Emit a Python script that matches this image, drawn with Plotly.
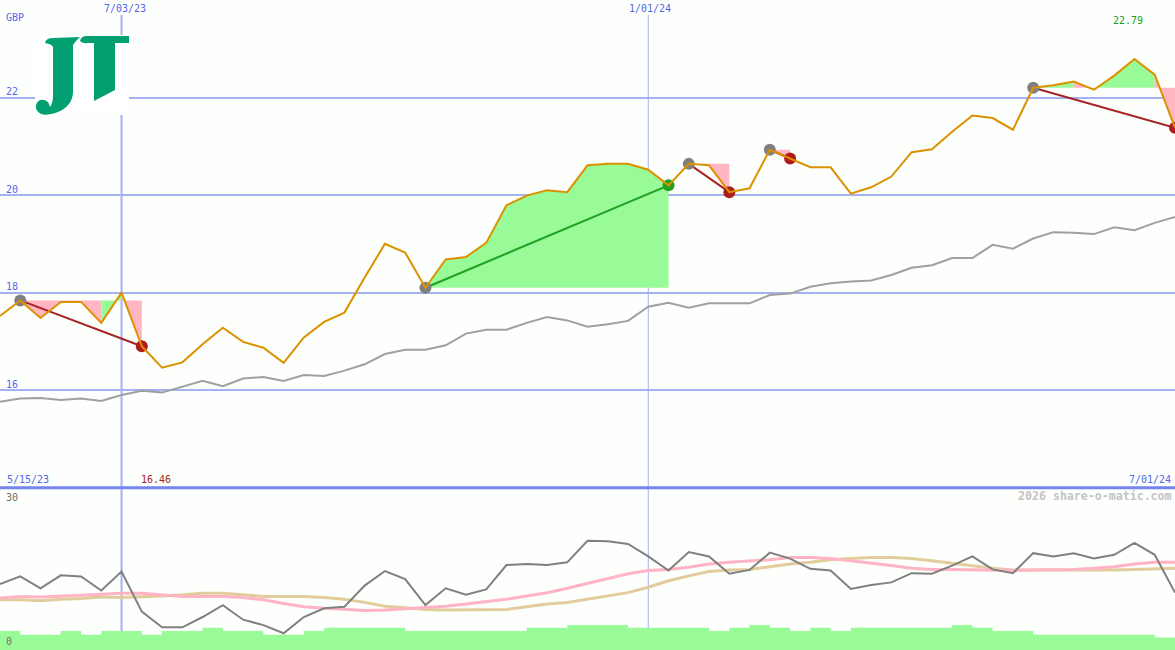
import pandas as pd
import plotly.graph_objects as go

# ---------------- data ----------------
dates = pd.date_range("2023-05-22", periods=59, freq="7D")

price = [17.52, 17.84, 17.48, 17.81, 17.81, 17.38, 18.00, 16.90, 16.46, 16.57,
         16.94, 17.28, 16.99, 16.87, 16.56, 17.08, 17.40, 17.59, 18.31, 19.00,
         18.82, 18.10, 18.68, 18.73, 19.02, 19.79, 19.99, 20.10, 20.06, 20.61,
         20.64, 20.64, 20.52, 20.20, 20.64, 20.61, 20.06, 20.14, 20.93, 20.75,
         20.57, 20.57, 20.03, 20.16, 20.38, 20.88, 20.94, 21.30, 21.63, 21.58,
         21.34, 22.20, 22.25, 22.33, 22.16, 22.45, 22.79, 22.47, 21.38]

moving_avg = [15.76, 15.83, 15.84, 15.80, 15.83, 15.78, 15.90, 15.99, 15.95, 16.07,
              16.19, 16.08, 16.24, 16.27, 16.19, 16.31, 16.29, 16.40, 16.53, 16.74,
              16.83, 16.83, 16.92, 17.16, 17.24, 17.24, 17.38, 17.50, 17.43, 17.30,
              17.35, 17.42, 17.71, 17.79, 17.69, 17.78, 17.78, 17.78, 17.95, 17.98,
              18.12, 18.19, 18.23, 18.25, 18.36, 18.51, 18.56, 18.71, 18.71, 18.98,
              18.90, 19.11, 19.24, 19.23, 19.20, 19.34, 19.28, 19.43, 19.55]

oscillator = [12.2, 13.6, 11.4, 13.8, 13.6, 11.0, 14.5, 7.1, 4.2, 4.2,
              6.1, 8.3, 5.6, 4.6, 3.1, 6.1, 7.7, 8.0, 11.9, 14.6,
              13.1, 8.3, 11.4, 10.2, 11.2, 15.7, 15.9, 15.7, 16.2, 20.2,
              20.1, 19.6, 17.3, 14.7, 18.1, 17.3, 14.1, 14.8, 18.0, 16.9,
              15.0, 14.7, 11.3, 12.0, 12.5, 14.2, 14.1, 15.6, 17.3, 14.9,
              14.2, 17.9, 17.3, 17.9, 16.9, 17.6, 19.8, 17.6, 10.6]

signal_pink = [9.6, 9.9, 9.8, 9.9, 10.1, 10.3, 10.5, 10.5, 10.2, 9.9,
               9.9, 9.9, 9.7, 9.3, 8.6, 8.0, 7.7, 7.5, 7.3, 7.4,
               7.6, 7.8, 8.1, 8.5, 8.9, 9.4, 10.0, 10.6, 11.4, 12.3,
               13.3, 14.1, 14.7, 14.9, 15.3, 15.9, 16.2, 16.4, 16.7, 17.1,
               17.1, 16.9, 16.5, 16.0, 15.6, 15.1, 14.9, 14.9, 14.8, 14.7,
               14.7, 14.8, 14.8, 14.9, 15.1, 15.4, 15.9, 16.2, 16.2]

signal_tan = [9.3, 9.3, 9.1, 9.4, 9.5, 9.8, 9.7, 9.8, 10.0, 10.2,
              10.5, 10.5, 10.2, 9.9, 9.9, 9.9, 9.7, 9.4, 8.8, 8.1,
              7.8, 7.5, 7.4, 7.4, 7.4, 7.5, 8.0, 8.5, 8.8, 9.4,
              10.0, 10.6, 11.6, 12.8, 13.7, 14.5, 14.8, 14.9, 15.4, 15.9,
              16.2, 16.7, 16.9, 17.1, 17.1, 16.9, 16.5, 16.0, 15.6, 15.1,
              14.8, 14.8, 14.8, 14.7, 14.8, 14.8, 14.9, 15.0, 15.1]

volume = [3.5, 2.8, 2.8, 3.5, 2.8, 3.5, 3.5, 2.8, 3.5, 3.5,
          4.1, 3.5, 3.5, 2.8, 2.8, 3.5, 4.1, 4.1, 4.1, 4.1,
          3.5, 3.5, 3.5, 3.5, 3.5, 3.5, 4.1, 4.1, 4.6, 4.6,
          4.6, 4.1, 4.1, 4.1, 4.1, 3.5, 4.1, 4.6, 4.1, 3.5,
          4.1, 3.5, 4.1, 4.1, 4.1, 4.1, 4.1, 4.6, 4.1, 3.5,
          3.5, 2.8, 2.8, 2.8, 2.8, 2.8, 2.8, 2.3, 2.3]

trend_start = [1, 21, 34, 38, 51]
trend_end = [7, 33, 36, 39, 58]

price_ticks = [16, 18, 20, 22]
date_labels_top = ["2023-07-03", "2024-01-01"]

# ---------------- style ----------------
W, H = 1175, 650
BG = "#fcfffc"
GRID = "#a4b2f2"
BLUE_TXT = "#5566ee"
ORANGE = "#dc9100"
GREEN_FILL = "#98fb98"
PINK_FILL = "#ffb6c1"
DOWN_LINE = "#a52424"
DOWN_MARK = "#b01c1c"
UP_COL = "#22a022"
START_MARK = "#808080"
LOGO = "#02a070"
FONT = "DejaVu Sans Mono"
split = 162.3 / H  # bottom panel share

fig = go.Figure()

# trend fills
for s, e in zip(trend_start, trend_end):
    base = price[s]
    i = s
    while i < e:
        up = price[i + 1] > base
        j = i
        while j < e and (price[j + 1] > base) == up:
            j += 1
        xs = [dates[i]] + list(dates[i:j + 1]) + [dates[j]]
        ys = [base] + price[i:j + 1] + [base]
        fig.add_trace(go.Scatter(x=xs, y=ys, mode="lines", fill="toself",
                                 fillcolor=GREEN_FILL if up else PINK_FILL,
                                 line=dict(width=0), hoverinfo="skip",
                                 xaxis="x", yaxis="y"))
        i = j

# moving average
fig.add_trace(go.Scatter(x=dates, y=moving_avg, mode="lines",
                         line=dict(color="#a0a0a0", width=2), xaxis="x", yaxis="y"))

# trend lines and markers
for s, e in zip(trend_start, trend_end):
    up = price[e] > price[s]
    fig.add_trace(go.Scatter(x=[dates[s], dates[e]], y=[price[s], price[e]], mode="lines",
                             line=dict(color=UP_COL if up else DOWN_LINE, width=2),
                             xaxis="x", yaxis="y"))
    fig.add_trace(go.Scatter(x=[dates[s]], y=[price[s]], mode="markers",
                             marker=dict(color=START_MARK, size=12, line=dict(width=0)),
                             xaxis="x", yaxis="y"))
    fig.add_trace(go.Scatter(x=[dates[e]], y=[price[e]], mode="markers",
                             marker=dict(color=UP_COL if up else DOWN_MARK, size=12,
                                         line=dict(width=0)),
                             xaxis="x", yaxis="y"))

# price line
fig.add_trace(go.Scatter(x=dates, y=price, mode="lines",
                         line=dict(color=ORANGE, width=2), xaxis="x", yaxis="y"))

# bottom panel
fig.add_trace(go.Scatter(x=dates, y=volume, mode="lines", line=dict(shape="hv", width=0, color=GREEN_FILL),
                         fill="tozeroy", fillcolor=GREEN_FILL, xaxis="x2", yaxis="y2"))
fig.add_trace(go.Scatter(x=dates, y=signal_tan, mode="lines",
                         line=dict(color="#e2cc9c", width=3), xaxis="x2", yaxis="y2"))
fig.add_trace(go.Scatter(x=dates, y=signal_pink, mode="lines",
                         line=dict(color="#ffb3c4", width=3), xaxis="x2", yaxis="y2"))
fig.add_trace(go.Scatter(x=dates, y=oscillator, mode="lines",
                         line=dict(color="#808080", width=2), xaxis="x2", yaxis="y2"))

xr = [dates[0], dates[-1]]
fig.update_layout(
    width=W, height=H, margin=dict(l=0, r=0, t=0, b=0),
    paper_bgcolor=BG, plot_bgcolor=BG, showlegend=False, hovermode=False,
    xaxis=dict(domain=[0, 1], range=xr, anchor="y", showgrid=False, showticklabels=False,
               zeroline=False, showline=False, ticks=""),
    xaxis2=dict(domain=[0, 1], range=xr, anchor="y2", matches="x", showgrid=False,
                showticklabels=False, zeroline=False, showline=False, ticks=""),
    yaxis=dict(domain=[split, 1], range=[14, 24], tickvals=price_ticks, showgrid=True,
               gridcolor=GRID, gridwidth=2, showticklabels=False, zeroline=False,
               showline=False, ticks=""),
    yaxis2=dict(domain=[0, split], range=[0, 30], showgrid=False, showticklabels=False,
                zeroline=False, showline=False, ticks=""),
)

# vertical date lines
fig.add_shape(type="line", xref="x", yref="paper", x0=date_labels_top[0], x1=date_labels_top[0],
              y0=0, y1=1 - 15 / H, line=dict(color=GRID, width=2), layer="below")
fig.add_shape(type="line", xref="x", yref="paper", x0=date_labels_top[1], x1=date_labels_top[1],
              y0=0, y1=1 - 15 / H, line=dict(color=GRID, width=1), layer="below")
# panel separator
fig.add_shape(type="line", xref="paper", yref="paper", x0=0, x1=1, y0=split, y1=split,
              line=dict(color="#7585f0", width=3))


# ---------------- logo (drawn as paths in pixel space) ----------------
def logo_path(cmds):
    out = []
    for c in cmds:
        if isinstance(c, str):
            out.append(c)
        else:
            out.append("%.5f,%.5f" % (c[0] / W, 1 - c[1] / H))
    return " ".join(out)


fig.add_shape(type="rect", xref="paper", yref="paper", x0=35 / W, x1=129 / W,
              y0=1 - 115 / H, y1=1 - 35 / H, fillcolor="white", line=dict(width=0),
              layer="above")
j_path = logo_path([
    "M", (45, 43), "Q", (46, 38), (53, 38), "L", (80, 37), "L", (76, 41), "L", (73, 45),
    "L", (73, 93), "Q", (72, 106), (58, 112), "Q", (47, 116), (41, 114),
    "Q", (35, 111), (36, 105), "Q", (38, 99), (44, 100), "Q", (49, 101), (50, 107),
    "Q", (53, 103), (53, 95), "L", (53, 47), "Q", (52, 44), (45, 43), "Z"])
t_path = logo_path([
    "M", (80, 41), "Q", (81, 36), (87, 36), "L", (129, 36), "L", (129, 43), "L", (115, 43),
    "L", (115, 90), "L", (94, 101), "L", (94, 43), "L", (88, 43), "Q", (83, 44), (80, 41), "Z"])
for pth in (j_path, t_path):
    fig.add_shape(type="path", xref="paper", yref="paper", path=pth, fillcolor=LOGO,
                  line=dict(width=0), layer="above")


def lab(text, x, y, xref="paper", yref="paper", xanchor="left", color=BLUE_TXT, size=10,
        yshift=0, xshift=0, bold=False):
    fig.add_annotation(text=("<b>%s</b>" % text) if bold else text, x=x, y=y, xref=xref,
                       yref=yref, xanchor=xanchor, yanchor="middle", showarrow=False,
                       xshift=xshift, yshift=yshift, borderpad=0,
                       font=dict(family=FONT, size=size, color=color))


lab("7/03/23", date_labels_top[0], 1 - 8 / H, xref="x", xanchor="center", xshift=3)
lab("1/01/24", date_labels_top[1], 1 - 8 / H, xref="x", xanchor="center", xshift=2)
lab("GBP", 5 / W, 1 - 18 / H)
for t in price_ticks:
    lab(str(t), 5 / W, t, yref="y", yshift=6)
lab("%.2f" % max(price), dates[price.index(max(price))], 1 - 21 / H, xref="x",
    xanchor="center", color="#229922", xshift=-6)
lab("5/15/23", 6 / W, 1 - 479 / H)
lab("%.2f" % min(price), dates[price.index(min(price))], 1 - 479 / H, xref="x",
    xanchor="center", color="#aa1e1e", xshift=-6)
lab("7/01/24", 1172 / W, 1 - 479 / H, xanchor="right")
lab("30", 5 / W, 1 - 497 / H, color="#707070")
lab("0", 5 / W, 1 - 641 / H, color="#707070")
lab("2026 share-o-matic.com", 1173 / W, 1 - 496 / H, xanchor="right", color="#c4c4c4",
    size=11.6, bold=True)

fig.write_html("out.html", config={"displayModeBar": False},
               post_script="document.body.style.margin='0';")
